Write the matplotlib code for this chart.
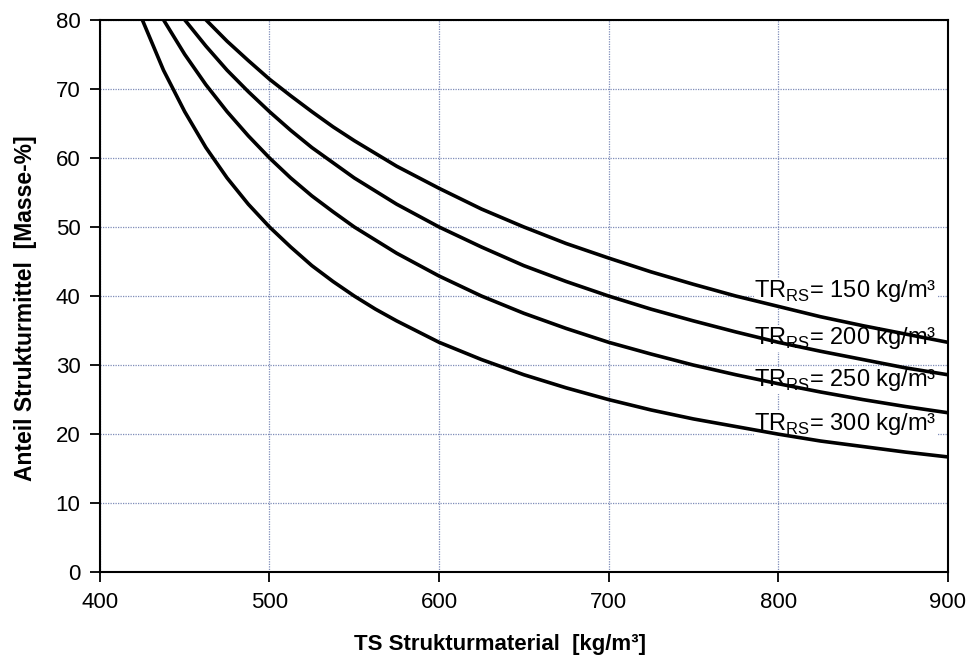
import numpy as np
import matplotlib.pyplot as plt

plt.rcParams['font.family'] = ['Liberation Sans', 'DejaVu Sans']
plt.rcParams['mathtext.fontset'] = 'custom'
plt.rcParams['mathtext.rm'] = 'Liberation Sans'

# TS of structure material [kg/m3] and share of structure material [mass-%]
ts_150 = [462.5, 475, 487.5, 500, 512.5, 525, 537.5, 550, 575, 600, 625, 650, 675, 700, 725, 750, 775, 800, 825, 850, 875, 900]
anteil_150 = [80.0, 76.9, 74.1, 71.4, 69.0, 66.7, 64.5, 62.5, 58.8, 55.6, 52.6, 50.0, 47.6, 45.5, 43.5, 41.7, 40.0, 38.5, 37.0, 35.7, 34.5, 33.3]

ts_200 = [450, 462.5, 475, 487.5, 500, 512.5, 525, 537.5, 550, 575, 600, 625, 650, 675, 700, 725, 750, 775, 800, 825, 850, 875, 900]
anteil_200 = [80.0, 76.2, 72.7, 69.6, 66.7, 64.0, 61.5, 59.3, 57.1, 53.3, 50.0, 47.1, 44.4, 42.1, 40.0, 38.1, 36.4, 34.8, 33.3, 32.0, 30.8, 29.6, 28.6]

ts_250 = [437.5, 450, 462.5, 475, 487.5, 500, 512.5, 525, 537.5, 550, 575, 600, 625, 650, 675, 700, 725, 750, 775, 800, 825, 850, 875, 900]
anteil_250 = [80.0, 75.0, 70.6, 66.7, 63.2, 60.0, 57.1, 54.5, 52.2, 50.0, 46.2, 42.9, 40.0, 37.5, 35.3, 33.3, 31.6, 30.0, 28.6, 27.3, 26.1, 25.0, 24.0, 23.1]

ts_300 = [425, 437.5, 450, 462.5, 475, 487.5, 500, 512.5, 525, 537.5, 550, 562.5, 575, 600, 625, 650, 675, 700, 725, 750, 775, 800, 825, 850, 875, 900]
anteil_300 = [80.0, 72.7, 66.7, 61.5, 57.1, 53.3, 50.0, 47.1, 44.4, 42.1, 40.0, 38.1, 36.4, 33.3, 30.8, 28.6, 26.7, 25.0, 23.5, 22.2, 21.1, 20.0, 19.0, 18.2, 17.4, 16.7]

labels = ['150', '200', '250', '300']
label_y = [40.7, 33.9, 27.8, 21.4]

fig = plt.figure(figsize=(9.7, 6.6), dpi=100)
ax = fig.add_axes([0.103, 0.133, 0.874, 0.837])

for ts, anteil in [(ts_150, anteil_150), (ts_200, anteil_200), (ts_250, anteil_250), (ts_300, anteil_300)]:
    ax.plot(ts, anteil, color='black', linewidth=2.6, zorder=3, solid_joinstyle='round')

for lab, y in zip(labels, label_y):
    ax.text(786, y, r'TR$_{\mathrm{RS}}$= ' + lab + ' kg/m³', fontsize=17, va='center', ha='left',
            zorder=2, bbox=dict(facecolor='white', edgecolor='none', pad=0.3))

ax.set_xlim(400, 900)
ax.set_ylim(0, 80)
ax.set_xticks(np.arange(400, 901, 100))
ax.set_yticks(np.arange(0, 81, 10))
ax.grid(True, color='#7f8cb8', linestyle=(0, (1, 1)), linewidth=0.9)
ax.set_axisbelow(True)
for s in ax.spines.values():
    s.set_linewidth(1.5)
    s.set_color('black')
ax.tick_params(direction='out', length=7, width=1.3, labelsize=16, pad=7)

ax.set_xlabel('TS Strukturmaterial  [kg/m³]', fontsize=16, fontweight='bold')
ax.set_ylabel('Anteil Strukturmittel  [Masse-%]', fontsize=16.5, fontweight='bold')
ax.xaxis.set_label_coords(0.472, -0.111)
ax.yaxis.set_label_coords(-0.074, 0.478)

fig.savefig('out.png', dpi=100)
